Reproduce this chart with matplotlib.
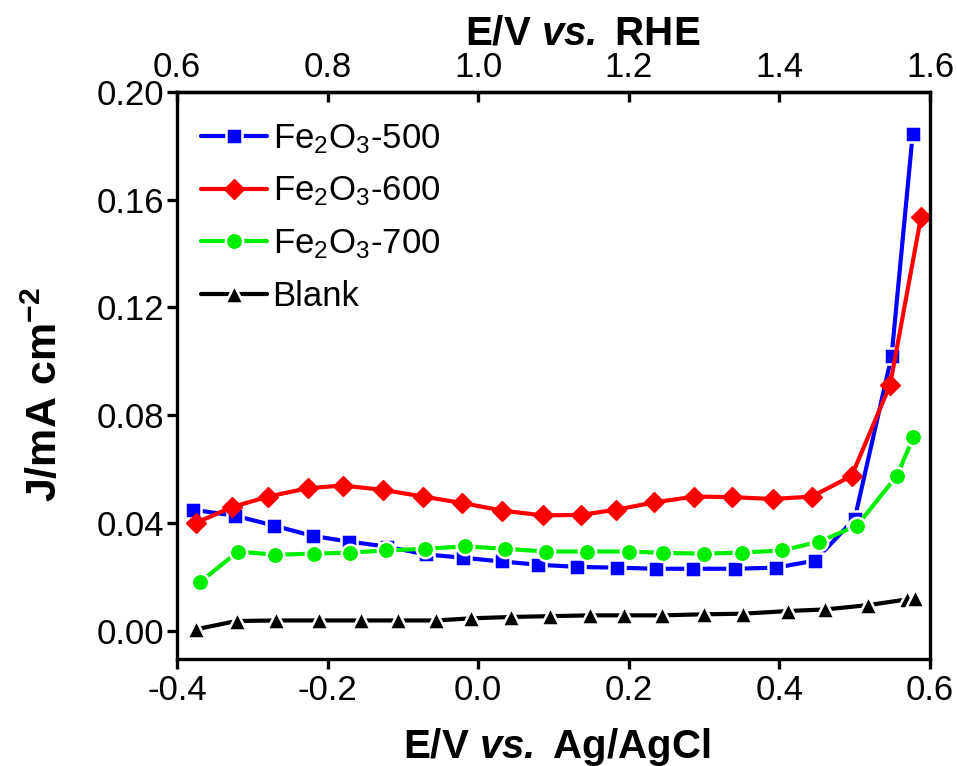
import matplotlib
matplotlib.use("Agg")
import matplotlib.pyplot as plt

plt.rcParams['font.family'] = ['Liberation Sans', 'DejaVu Sans']
plt.rcParams['mathtext.fontset'] = 'custom'
plt.rcParams['mathtext.rm'] = 'Liberation Sans'
plt.rcParams['mathtext.it'] = 'Liberation Sans:italic'
plt.rcParams['mathtext.bf'] = 'Liberation Sans:bold'
plt.rcParams['mathtext.bfit'] = 'Liberation Sans:bold:italic'

# ---- data ----
x500 = [-0.379, -0.323, -0.271, -0.220, -0.172, -0.121, -0.069, -0.020, 0.031, 0.080,
        0.131, 0.184, 0.236, 0.285, 0.341, 0.395, 0.447, 0.500, 0.549, 0.577]
y500 = [0.0449, 0.0427, 0.0390, 0.0352, 0.0331, 0.0312, 0.0283, 0.0271, 0.0257, 0.0245,
        0.0237, 0.0234, 0.0230, 0.0230, 0.0230, 0.0234, 0.0260, 0.0416, 0.1020, 0.1844]

x600 = [-0.375, -0.327, -0.279, -0.226, -0.180, -0.127, -0.073, -0.021, 0.032, 0.086,
        0.136, 0.183, 0.233, 0.287, 0.337, 0.391, 0.443, 0.496, 0.547, 0.588]
y600 = [0.0400, 0.0459, 0.0498, 0.0529, 0.0539, 0.0523, 0.0498, 0.0474, 0.0446, 0.0428,
        0.0430, 0.0449, 0.0476, 0.0498, 0.0496, 0.0489, 0.0498, 0.0575, 0.0913, 0.1535]

x700 = [-0.370, -0.319, -0.270, -0.218, -0.170, -0.122, -0.071, -0.018, 0.036, 0.090,
        0.145, 0.200, 0.245, 0.300, 0.350, 0.404, 0.453, 0.503, 0.556, 0.578]
y700 = [0.0179, 0.0294, 0.0282, 0.0286, 0.0290, 0.0298, 0.0304, 0.0313, 0.0304, 0.0294,
        0.0294, 0.0294, 0.0289, 0.0286, 0.0290, 0.0298, 0.0331, 0.0390, 0.0575, 0.0719]

xblank = [-0.375, -0.321, -0.269, -0.212, -0.156, -0.107, -0.056, -0.009, 0.044, 0.095,
          0.148, 0.194, 0.244, 0.300, 0.351, 0.411, 0.461, 0.518, 0.569, 0.580]
yblank = [0.0005, 0.0036, 0.0038, 0.0038, 0.0038, 0.0038, 0.0038, 0.0046, 0.0051, 0.0054,
          0.0057, 0.0057, 0.0057, 0.0061, 0.0063, 0.0073, 0.0079, 0.0095, 0.0116, 0.0120]

labels = [r'Fe$_2$O$_3$-500', r'Fe$_2$O$_3$-600', r'Fe$_2$O$_3$-700', 'Blank']
xticks_bottom = [-0.4, -0.2, 0.0, 0.2, 0.4, 0.6]
xticks_top = [0.6, 0.8, 1.0, 1.2, 1.4, 1.6]
yticks = [0.00, 0.04, 0.08, 0.12, 0.16, 0.20]

fig = plt.figure(figsize=(9.57, 7.66), dpi=100)
ax = fig.add_axes([0.185, 0.1397, 0.7868, 0.7402])

lw = 3.0
common = dict(lw=lw, solid_capstyle='round', solid_joinstyle='round')
ax.plot(x500, y500, color='#0000FF', marker='s', ms=11.5, mec='white', mew=1.8,
        label=labels[0], **common)
ax.plot(x600, y600, color='#FF0000', marker='D', ms=9.8, mec='#FF0000', mew=1.0,
        label=labels[1], **common)
ax.plot(x700, y700, color='#00EE00', marker='o', ms=12.5, mec='white', mew=1.8,
        label=labels[2], **common)
ax.plot(xblank, yblank, color='black', marker='^', ms=13.5, mec='white', mew=1.8,
        label=labels[3], **common)

ax.set_xlim(-0.4, 0.6)
ax.set_ylim(-0.0105, 0.20)
ax.set_xticks(xticks_bottom)
ax.set_xticklabels(['-0.4', '-0.2', '0.0', '0.2', '0.4', '0.6'])
ax.set_yticks(yticks)
ax.set_yticklabels(['%.2f' % v for v in yticks])

for s in ax.spines.values():
    s.set_linewidth(2.4)
ax.tick_params(axis='x', direction='out', length=7, width=2.4, labelsize=25, pad=4)
ax.tick_params(axis='y', direction='out', length=7, width=2.4, labelsize=25, pad=2,
               right=False)

sec = ax.secondary_xaxis('top', functions=(lambda v: v + 1.0, lambda v: v - 1.0))
sec.set_xticks(xticks_top)
sec.set_xticklabels(['%.1f' % v for v in xticks_top])
sec.tick_params(direction='in', length=7, width=2.4, labelsize=25, pad=6)
sec.spines['top'].set_linewidth(2.4)
sec.set_xlabel(r'E/V $\mathbfit{vs.}$ RHE', fontsize=29, fontweight='bold')
sec.xaxis.set_label_coords(0.539, 1.104, transform=ax.transAxes)
sec.xaxis.label.set_va('center')

ax.set_xlabel(r'E/V $\mathbfit{vs.}$ Ag/AgCl', fontsize=29, fontweight='bold')
ax.xaxis.set_label_coords(0.505, -0.155)
ax.xaxis.label.set_va('center')
ax.set_ylabel(r'J/mA cm$^{\mathbf{-2}}$', fontsize=31, fontweight='bold')
ax.yaxis.set_label_coords(-0.175, 0.467)
ax.yaxis.label.set_va('center')

leg = ax.legend(loc='upper left', frameon=False, fontsize=25, handlelength=1.9,
                handletextpad=0.15, labelspacing=0.55, borderaxespad=0.3,
                bbox_to_anchor=(0.0, 0.99))

fig.savefig('out.png', dpi=100)
